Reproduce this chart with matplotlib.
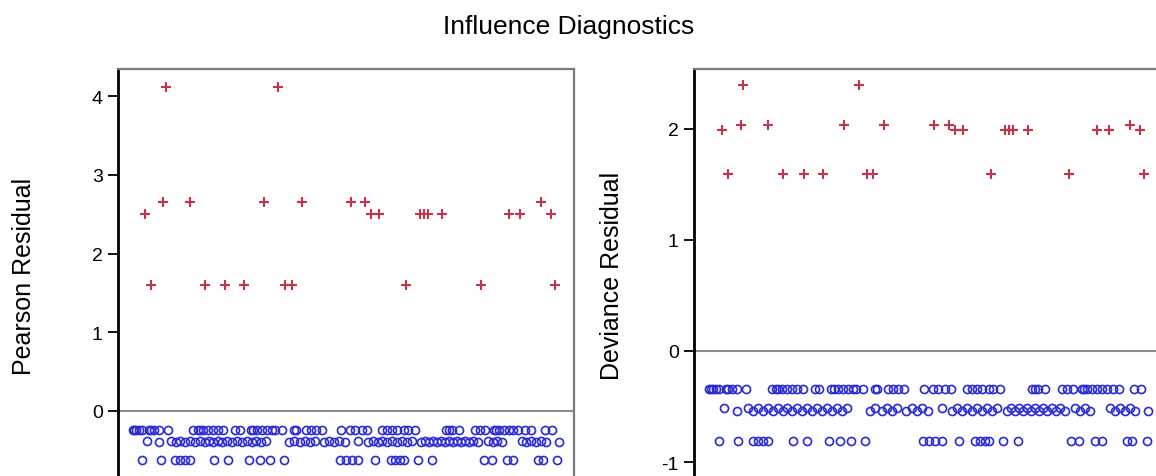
import matplotlib
matplotlib.use("Agg")
import matplotlib.pyplot as plt
import numpy as np

plt.rcParams['font.family'] = ['Liberation Sans', 'DejaVu Sans']

# observation numbers for each fitted-probability group (y=1 -> red, y=0 -> blue)
obs_A1 = [24.7, 82.5]
obs_B1 = [23.3, 37.2, 75.0, 95.0, 120.2, 127.3, 218.0]
obs_C1 = [13.8, 130.5, 134.7, 155.5, 157.7, 159.7, 167.2, 201.7, 207.3, 223.0]
obs_D1 = [17.2, 44.7, 55.2, 64.7, 86.3, 89.7, 148.5, 187.3, 225.2]

obs_A0 = [7.5, 8.5, 9.5, 11.0, 12.5, 15.8, 16.8, 18.8, 21.3, 26.0,
          38.8, 41.0, 42.2, 44.0, 46.5, 48.8, 51.3, 54.3, 60.5, 62.7,
          68.5, 69.8, 71.8, 74.3, 76.8, 79.3, 81.0, 84.3, 90.5, 91.7,
          97.0, 99.5, 102.0, 105.0, 115.0, 119.7, 122.2, 125.5, 128.3,
          136.3, 138.8, 141.3, 143.8, 147.5, 149.7, 153.0, 168.8, 170.5,
          172.2, 175.5, 184.0, 186.3, 189.3, 193.8, 195.0, 196.3, 198.8,
          201.3, 203.8, 206.3, 209.7, 212.7, 220.0, 223.5]
obs_B0 = [15.0, 27.2, 32.2, 37.2, 42.2, 46.7, 51.3, 56.3, 61.3, 66.3,
          71.3, 76.3, 90.5, 96.3, 101.3, 108.8, 113.8, 123.8, 131.3,
          136.3, 141.3, 146.3, 151.3, 158.3, 162.3, 166.3, 170.5, 174.7,
          178.8, 183.0, 190.5, 195.5, 208.0, 213.0, 218.0]
obs_C0 = [21.3, 29.7, 34.7, 39.7, 44.7, 48.8, 53.8, 58.8, 63.8, 68.8,
          73.8, 88.0, 93.8, 98.8, 106.0, 111.3, 117.2, 128.8, 133.8,
          138.8, 143.8, 148.8, 156.3, 160.3, 164.3, 168.3, 172.5, 176.7,
          180.8, 185.5, 193.0, 198.0, 210.5, 215.5, 220.5, 227.2]
obs_D0 = [12.5, 22.0, 29.5, 32.0, 34.5, 37.0, 49.5, 56.5, 67.5, 73.0,
          78.5, 85.3, 114.5, 117.5, 120.5, 123.8, 132.3, 140.5, 143.0,
          145.5, 147.5, 154.7, 162.0, 188.5, 192.5, 200.5, 203.8, 216.3,
          218.8, 226.3]

groups = ['A', 'B', 'C', 'D']
pearson_y1 = [4.12, 2.65, 2.50, 1.60]
pearson_y0 = [-0.24, -0.38, -0.40, -0.625]
deviance_y1 = [2.40, 2.04, 1.99, 1.59]
deviance_y0 = [-0.34, -0.515, -0.545, -0.81]

obs_y1 = [obs_A1, obs_B1, obs_C1, obs_D1]
obs_y0 = [obs_A0, obs_B0, obs_C0, obs_D0]

red = '#C8324E'
blue = '#2B2BD6'

W, H = 1156, 477
fig = plt.figure(figsize=(W / 100, H / 100), dpi=100)

fig.text(569 / W, 1 - 27 / H, 'Influence Diagnostics', ha='center', va='center', fontsize=19)


def panel(rect, y1_vals, y0_vals, ylim, yticks, ylabel, label_x):
    ax = fig.add_axes(rect)
    for obs, v in zip(obs_y0, y0_vals):
        ax.plot(obs, [v] * len(obs), 'o', ms=5.8, mfc='none', mec=blue, mew=1.2,
                linestyle='none', zorder=3)
    for obs, v in zip(obs_y1, y1_vals):
        ax.plot(obs, [v] * len(obs), '+', ms=7.0, color=red, mew=1.5,
                linestyle='none', zorder=3)
    ax.axhline(0, color='#8c8c8c', lw=1.5, zorder=1)
    ax.set_xlim(0, 235)
    ax.set_ylim(*ylim)
    ax.set_yticks(yticks)
    ax.set_yticklabels([str(t) for t in yticks])
    ax.set_xticks([])
    ax.tick_params(axis='y', length=7, width=1.3, pad=4, labelsize=14, colors='black')
    ax.spines['bottom'].set_visible(False)
    ax.spines['left'].set_color('black')
    ax.spines['left'].set_linewidth(2.0)
    for s in ('top', 'right'):
        ax.spines[s].set_color('#7a7a7a')
        ax.spines[s].set_linewidth(1.6)
    fig.text(label_x / W, 1 - 276 / H, ylabel, rotation=90, ha='center', va='center',
             fontsize=18)
    return ax


panel([118 / W, 0, 456 / W, 407 / H], pearson_y1, pearson_y0,
      (-0.826, 4.346), [0, 1, 2, 3, 4], 'Pearson Residual', 24)
panel([694 / W, 0, 470 / W, 407 / H], deviance_y1, deviance_y0,
      (-1.126, 2.54), [-1, 0, 1, 2], 'Deviance Residual', 612)

fig.savefig('out.png', dpi=100)
